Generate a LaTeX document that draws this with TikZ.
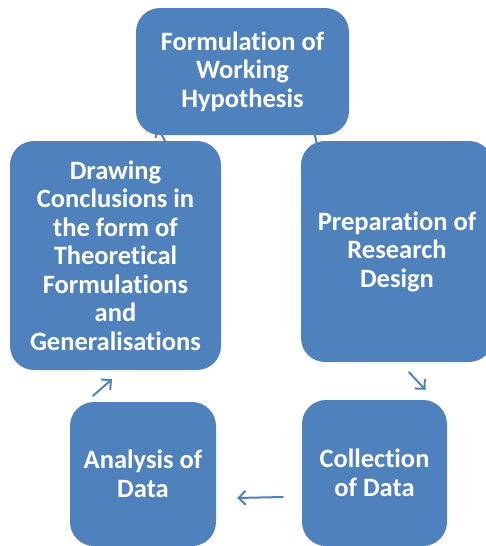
\documentclass[tikz,border=0pt]{standalone}
\usepackage{fontspec}
\setmainfont{Carlito}[Ligatures=NoCommon]
\usetikzlibrary{arrows.meta,calc}
\definecolor{cycblue}{HTML}{4F81BD}
\pgfdeclarelayer{bg}
\pgfsetlayers{bg,main}

\begin{document}
\begin{tikzpicture}[
    x=1pt,y=-1pt,
    font=\fontsize{26.5}{28.5}\selectfont\bfseries,
    stage/.style={fill=cycblue,text=white,rounded corners=24pt,align=center,inner sep=0pt},
    arr/.style={-{Straight Barb[length=7pt,width=14pt]},line width=2pt,draw=cycblue,line cap=round}
  ]
    \useasboundingbox (0,0) rectangle (486,546);
    \node[stage,minimum width=213,minimum height=127] (form) at (242.5,71.5) {Formulation of\\Working\\Hypothesis};
    \node[stage,minimum width=211,minimum height=229] (concl) at (115.5,255.5) {Drawing\\Conclusions in\\the form of\\Theoretical\\Formulations\\and\\Generalisations};
    \node[stage,minimum width=192,minimum height=221] (prep) at (397,251.5) {Preparation of\\Research\\Design};
    \node[stage,minimum width=146,minimum height=144] (anal) at (143,474) {Analysis of\\Data};
    \node[stage,minimum width=145,minimum height=146] (coll) at (374.5,473) {Collection\\of Data};
    \draw[arr] ($(prep.south)+(12,10)$) -- ($(coll.north)+(51,-10)$);
    \draw[arr] ($(coll.west)+(-19,24)$) -- ($(anal.east)+(21,24)$);
    \draw[arr] ($(anal.north)+(-50,-6)$) -- ($(concl.south)+(-3.5,9)$);
    % arrows mostly hidden under the boxes
    \begin{pgfonlayer}{bg}
      \draw[arr] ($(concl.north)+(55,10)$) -- ($(form.south)+(-85,-8)$);
      \draw[arr] ($(form.south)+(70,-10)$) -- ($(prep.north)+(-78,12)$);
    \end{pgfonlayer}
  \end{tikzpicture}
\end{document}
